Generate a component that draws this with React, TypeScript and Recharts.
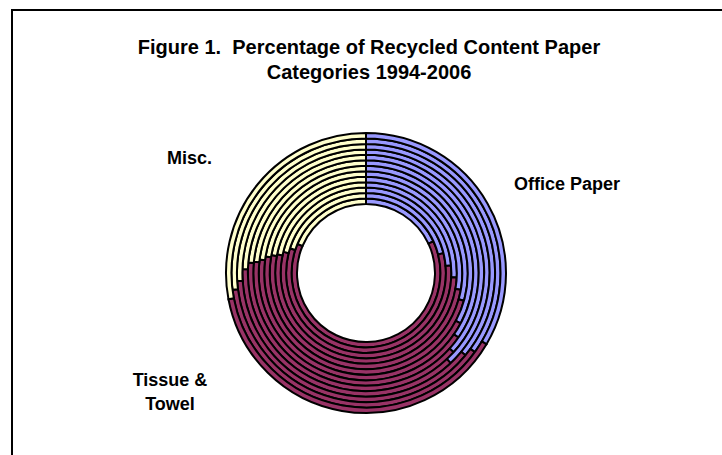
import { Cell, Pie, PieChart } from 'recharts';

// one ring per year, 1994 is the innermost
const years = ['1994', '1995', '1996', '1997', '1998', '1999', '2000', '2001', '2002', '2003', '2004', '2005', '2006'];
const categories = ['Office Paper', 'Tissue & Towel', 'Misc.'];
const officePaper = [18, 21, 23.6, 25.8, 27.8, 29.4, 32.8, 34.7, 36.7, 38, 36, 35, 33.5];
const tissueTowel = [63.4, 59, 55.4, 52.5, 50.2, 48.2, 44.2, 41.9, 39.7, 37.5, 38, 38, 38.5];
const misc = [18.6, 20, 21, 21.7, 22, 22.4, 23, 23.4, 23.6, 24.5, 26, 27, 28];

const colors = ['#9999FF', '#993366', '#FFFFCC'];

const CX = 366;
const CY = 273;
const R_IN = 69;
const R_OUT = 140;
const step = (R_OUT - R_IN) / years.length;

const font = 'Arial, "Liberation Sans", Helvetica, sans-serif';

export default function App() {
  return (
    <div
      style={{
        position: 'fixed',
        left: 0,
        top: 0,
        width: 722,
        height: 455,
        overflow: 'hidden',
        background: '#fff',
        fontFamily: font,
      }}
    >
      <div
        style={{
          position: 'absolute',
          left: 11,
          top: 9,
          width: 900,
          height: 600,
          border: '2px solid #000',
        }}
      />
      <div
        style={{
          position: 'absolute',
          left: 0,
          top: 35,
          width: 738,
          textAlign: 'center',
          fontWeight: 'bold',
          fontSize: 20,
          lineHeight: '25px',
          whiteSpace: 'pre',
        }}
      >
        {'Figure 1.  Percentage of Recycled Content Paper\nCategories 1994-2006'}
      </div>
      <PieChart
        width={722}
        height={455}
        margin={{ top: 0, right: 0, bottom: 0, left: 0 }}
        style={{ position: 'absolute', left: 0, top: 0 }}
      >
        {years.map((y, i) => {
          const data = categories.map((name, k) => ({
            name,
            value: [officePaper, tissueTowel, misc][k][i],
          }));
          return (
            <Pie
              key={y}
              data={data}
              dataKey="value"
              nameKey="name"
              cx={CX}
              cy={CY}
              startAngle={90}
              endAngle={-270}
              innerRadius={R_IN + i * step}
              outerRadius={R_IN + (i + 1) * step}
              stroke="#000"
              strokeWidth={2}
              isAnimationActive={false}
            >
              {data.map((d, k) => (
                <Cell key={d.name} fill={colors[k]} />
              ))}
            </Pie>
          );
        })}
      </PieChart>
      <div style={{ position: 'absolute', left: 514, top: 174, fontWeight: 'bold', fontSize: 18 }}>
        Office Paper
      </div>
      <div style={{ position: 'absolute', left: 167, top: 148, fontWeight: 'bold', fontSize: 18 }}>
        Misc.
      </div>
      <div
        style={{
          position: 'absolute',
          left: 120,
          top: 368,
          width: 100,
          textAlign: 'center',
          fontWeight: 'bold',
          fontSize: 18,
          lineHeight: '24px',
        }}
      >
        Tissue &amp;
        <br />
        Towel
      </div>
    </div>
  );
}
